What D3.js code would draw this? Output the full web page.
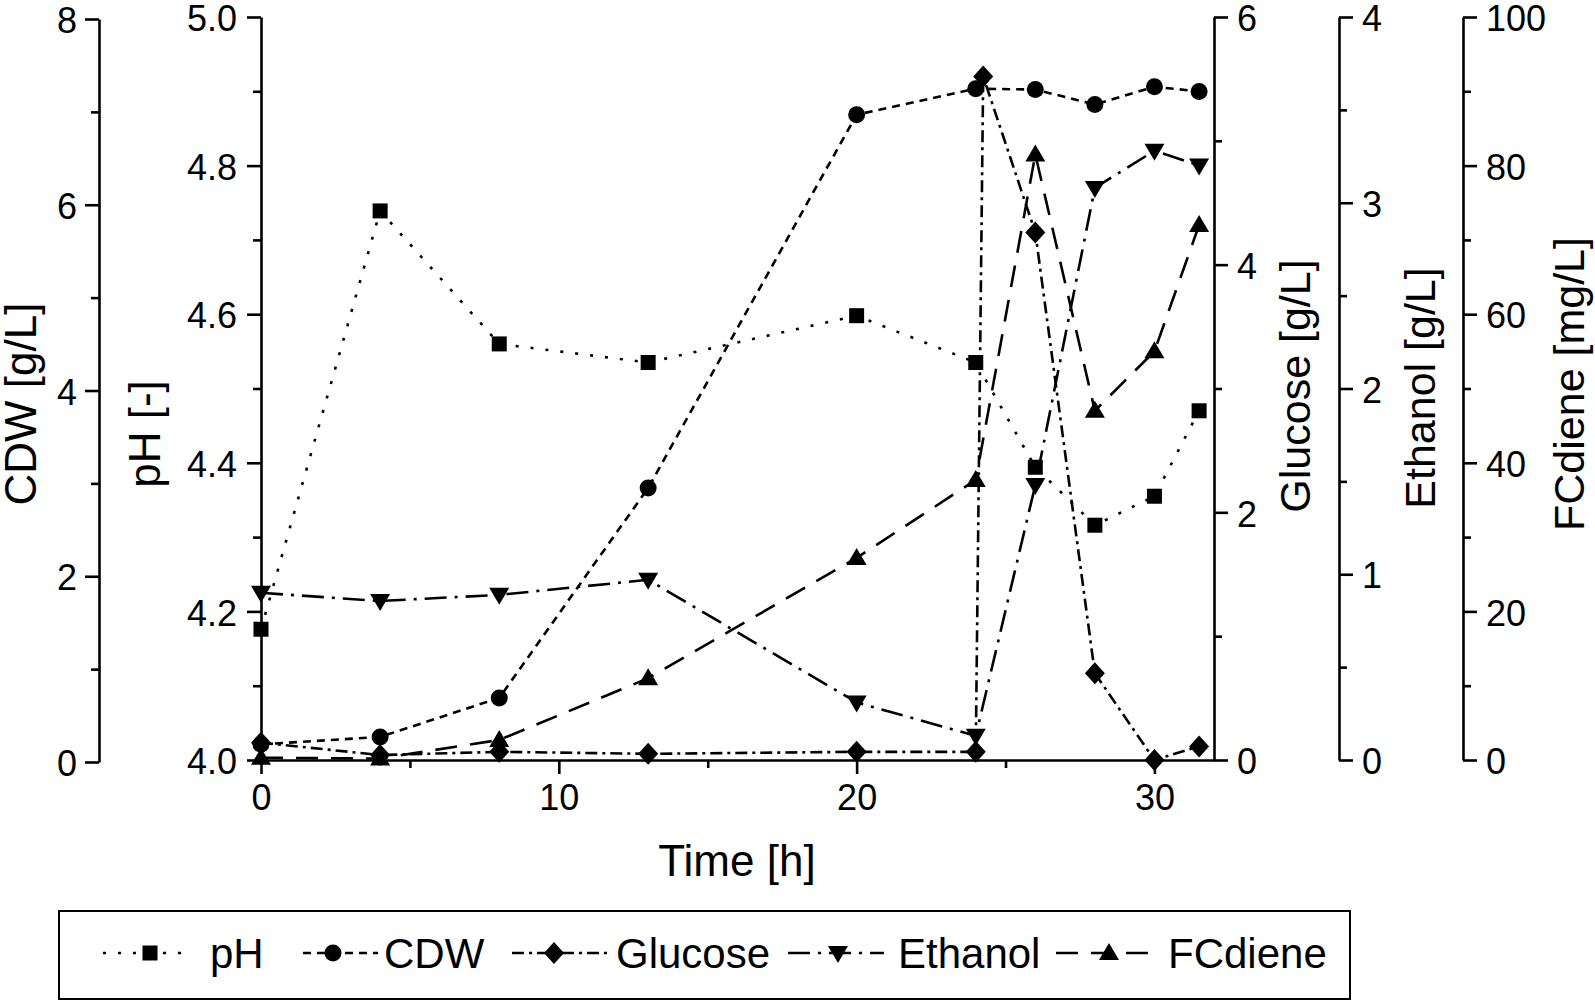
<!DOCTYPE html>
<html><head><meta charset="utf-8">
<script src="https://cdn.jsdelivr.net/npm/d3@7"></script>
<style>
html,body{margin:0;padding:0;background:#fff;}
svg{display:block;font-family:"Liberation Sans",Arial,sans-serif;}
</style></head>
<body>
<svg id="chart" width="1595" height="1003"></svg>
<script>
// ---- data ----
const time = [0, 4, 8, 13, 20, 24, 26, 28, 30, 31.5];
const pH = [4.176, 4.739, 4.560, 4.535, 4.598, 4.535, 4.394, 4.316, 4.355, 4.470];
const cdw = [0.19, 0.27, 0.69, 2.95, 6.97, 7.25, 7.24, 7.08, 7.27, 7.22];
const glucoseTime = [0, 4, 8, 13, 20, 24, 24.25, 26, 28, 30, 31.5];
const glucose = [0.14, 0.04, 0.066, 0.05, 0.066, 0.066, 5.52, 4.26, 0.70, 0.0, 0.11];
const ethanol = [0.90, 0.856, 0.889, 0.97, 0.31, 0.13, 1.48, 3.08, 3.28, 3.20];
const fcdiene = [0.3, 0.2, 2.7, 11.0, 27.2, 37.7, 81.5, 47.0, 55.0, 72.0];
const seriesNames = ["pH", "CDW", "Glucose", "Ethanol", "FCdiene"];
const xTicks = [0, 10, 20, 30];
const xMinor = [5, 15, 25];
const pHTicks = [4.0, 4.2, 4.4, 4.6, 4.8, 5.0];
const pHMinor = [4.1, 4.3, 4.5, 4.7, 4.9];
const cdwTicks = [0, 2, 4, 6, 8];
const cdwMinor = [1, 3, 5, 7];
const gluTicks = [0, 2, 4, 6];
const gluMinor = [1, 3, 5];
const ethTicks = [0, 1, 2, 3, 4];
const ethMinor = [0.5, 1.5, 2.5, 3.5];
const fcTicks = [0, 20, 40, 60, 80, 100];
const fcMinor = [10, 30, 50, 70, 90];

// ---- scales ----
const svg = d3.select("#chart");
const x = d3.scaleLinear([0, 32], [261, 1214]);
const yPH = d3.scaleLinear([4, 5], [760, 17]);
const yCDW = d3.scaleLinear([0, 8], [762, 19]);
const yGlu = d3.scaleLinear([0, 6], [760, 17]);
const yEth = d3.scaleLinear([0, 4], [760, 17]);
const yFC = d3.scaleLinear([0, 100], [760, 17]);

const TICK_FS = 36, TITLE_FS = 44, RTITLE_FS = 43, LEG_FS = 42, LW = 2.6;

function drawAxis(axisFn, scale, major, minor, fmt, pad, transform, vertical) {
  const g = svg.append("g").attr("transform", transform);
  g.call(axisFn(scale).tickValues(major).tickFormat(fmt).tickSize(14).tickSizeOuter(0).tickPadding(pad));
  const gm = svg.append("g").attr("transform", transform);
  gm.call(axisFn(scale).tickValues(minor).tickFormat("").tickSize(8).tickSizeOuter(0));
  gm.select(".domain").remove();
  [g, gm].forEach(s => {
    s.attr("font-family", null).attr("font-size", null);
    s.selectAll("path,line").attr("stroke", "#000").attr("stroke-width", LW);
    s.selectAll("text").attr("font-size", TICK_FS).attr("fill", "#000");
  });
  if (vertical) g.selectAll("text").attr("dy", "0.38em");
  return g;
}

drawAxis(d3.axisBottom, x, xTicks, xMinor, d3.format("d"), 10, "translate(0,760)", false);
drawAxis(d3.axisLeft, yPH, pHTicks, pHMinor, d3.format(".1f"), 10, "translate(261,0)", true);
drawAxis(d3.axisLeft, yCDW, cdwTicks, cdwMinor, d3.format("d"), 8, "translate(99,0)", true);
drawAxis(d3.axisRight, yGlu, gluTicks, gluMinor, d3.format("d"), 9, "translate(1214,0)", true);
drawAxis(d3.axisRight, yEth, ethTicks, ethMinor, d3.format("d"), 9, "translate(1339,0)", true);
drawAxis(d3.axisRight, yFC, fcTicks, fcMinor, d3.format("d"), 9, "translate(1463,0)", true);

// ---- axis titles ----
function vTitle(txt, xb, yc, fs) {
  svg.append("text").attr("transform", `translate(${xb},${yc}) rotate(-90)`)
    .attr("text-anchor", "middle").attr("font-size", fs).text(txt);
}
vTitle("CDW [g/L]", 36, 404, TITLE_FS);
vTitle("pH [-]", 160, 434, TITLE_FS);
vTitle("Glucose [g/L]", 1310, 386, RTITLE_FS);
vTitle("Ethanol [g/L]", 1435, 388, RTITLE_FS);
vTitle("FCdiene [mg/L]", 1584, 384, RTITLE_FS);
svg.append("text").attr("x", 737).attr("y", 876).attr("text-anchor", "middle")
  .attr("font-size", TITLE_FS).text("Time [h]");

// ---- series ----
const styles = {
  pH: {dash: "3,12", sym: "square"},
  CDW: {dash: "8,6", sym: "circle"},
  Glucose: {dash: "12,5,3,5", sym: "diamond"},
  Ethanol: {dash: "22,8,3,8", sym: "down"},
  FCdiene: {dash: "22,13", sym: "up"}
};
function marker(g, sym, cx, cy) {
  if (sym === "square") g.append("rect").attr("x", cx - 7.5).attr("y", cy - 7.5).attr("width", 15).attr("height", 15);
  else if (sym === "circle") g.append("circle").attr("cx", cx).attr("cy", cy).attr("r", 8.5);
  else if (sym === "diamond") g.append("path").attr("d", `M${cx},${cy-11}L${cx+10},${cy}L${cx},${cy+11}L${cx-10},${cy}Z`);
  else if (sym === "down") g.append("path").attr("d", `M${cx-10},${cy-7}L${cx+10},${cy-7}L${cx},${cy+10}Z`);
  else if (sym === "up") g.append("path").attr("d", `M${cx-10},${cy+7}L${cx+10},${cy+7}L${cx},${cy-10}Z`);
}
function series(name, xs, ys, yScale) {
  const pts = xs.map((t, i) => [x(t), yScale(ys[i])]);
  const g = svg.append("g");
  g.append("path").attr("d", d3.line()(pts)).attr("fill", "none").attr("stroke", "#000")
    .attr("stroke-width", LW).attr("stroke-dasharray", styles[name].dash);
  const gm = g.append("g").attr("fill", "#000");
  pts.forEach(p => marker(gm, styles[name].sym, p[0], p[1]));
}
series("pH", time, pH, yPH);
series("CDW", time, cdw, yCDW);
series("Glucose", glucoseTime, glucose, yGlu);
series("Ethanol", time, ethanol, yEth);
series("FCdiene", time, fcdiene, yFC);

// ---- legend ----
const lg = svg.append("g");
lg.append("rect").attr("x", 59).attr("y", 911).attr("width", 1291).attr("height", 88)
  .attr("fill", "none").attr("stroke", "#000").attr("stroke-width", 2);
const legendPos = [
  {l: 103, r: 192, m: 150, t: 210},
  {l: 303, r: 378, m: 333, t: 384},
  {l: 512, r: 608, m: 554, t: 616},
  {l: 788, r: 884, m: 838, t: 898},
  {l: 1056, r: 1154, m: 1109, t: 1168}
];
seriesNames.forEach((n, i) => {
  const p = legendPos[i], cy = 953;
  lg.append("line").attr("x1", p.l).attr("x2", p.r).attr("y1", cy).attr("y2", cy)
    .attr("stroke", "#000").attr("stroke-width", LW).attr("stroke-dasharray", styles[n].dash);
  const gm = lg.append("g").attr("fill", "#000");
  marker(gm, styles[n].sym, p.m, cy);
  lg.append("text").attr("x", p.t).attr("y", cy + 15).attr("font-size", LEG_FS).text(n);
});
</script>
</body></html>
